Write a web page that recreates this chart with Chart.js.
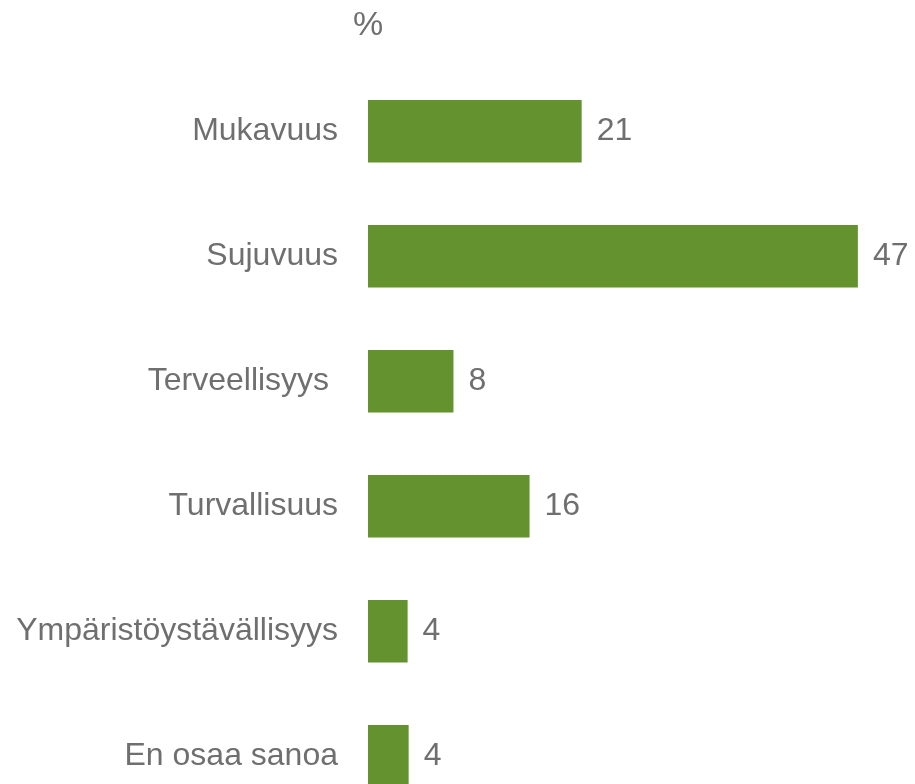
<!DOCTYPE html>
<html>
<head>
<meta charset="utf-8">
<script src="https://cdn.jsdelivr.net/npm/chart.js@4.4.0/dist/chart.umd.min.js"></script>
<style>
  html, body { margin: 0; padding: 0; background: #fff; overflow: hidden; }
</style>
</head>
<body>
<canvas id="myChart" width="915" height="820"></canvas>
<script>
// categories (trailing space on Terveellisyys is in the original label)
const categories = ['Mukavuus', 'Sujuvuus', 'Terveellisyys ', 'Turvallisuus', 'Ympäristöystävällisyys', 'En osaa sanoa'];
// share of answers, % (labels show them rounded)
const shares = [20.5, 47, 8.2, 15.5, 3.8, 3.9];
const unitLabel = '%';

const textColor = '#6f6f6f';
const barColor = '#63922f';
const fontFamily = 'Arial, "Liberation Sans", sans-serif';

// value labels next to each bar
const valueLabels = {
    id: 'valueLabels',
    afterDatasetsDraw(chart) {
        const ctx = chart.ctx;
        const meta = chart.getDatasetMeta(0);
        ctx.save();
        ctx.font = '32px ' + fontFamily;
        ctx.fillStyle = textColor;
        ctx.textAlign = 'left';
        ctx.textBaseline = 'middle';
        meta.data.forEach(function (bar, i) {
            ctx.fillText(String(Math.round(shares[i])), bar.x + 15, bar.y);
        });
        ctx.restore();
    }
};

// "%" heading above the bars
const unitHeading = {
    id: 'unitHeading',
    afterDraw(chart) {
        const ctx = chart.ctx;
        ctx.save();
        ctx.font = '34px ' + fontFamily;
        ctx.fillStyle = textColor;
        ctx.textAlign = 'center';
        ctx.textBaseline = 'middle';
        ctx.fillText(unitLabel, chart.chartArea.left, 26);
        ctx.restore();
    }
};

new Chart(document.getElementById('myChart'), {
    type: 'bar',
    data: {
        labels: categories,
        datasets: [{
            data: shares,
            backgroundColor: barColor,
            borderWidth: 0,
            barPercentage: 0.5,
            categoryPercentage: 1
        }]
    },
    plugins: [valueLabels, unitHeading],
    options: {
        responsive: false,
        animation: false,
        indexAxis: 'y',
        layout: { padding: { top: 68.75, bottom: 1.25, left: 0, right: 5 } },
        plugins: {
            legend: { display: false },
            tooltip: { enabled: false }
        },
        scales: {
            x: {
                display: false,
                min: 0,
                max: 52
            },
            y: {
                afterFit: function (scale) {
                    scale.width = 368;
                    // don't let label heights shrink the plot area
                    scale.paddingTop = 0;
                    scale.paddingBottom = 0;
                },
                grid: { display: false, drawTicks: false },
                border: { display: false },
                ticks: {
                    padding: 30,
                    color: textColor,
                    font: { family: fontFamily, size: 32 }
                }
            }
        }
    }
});
</script>
</body>
</html>
